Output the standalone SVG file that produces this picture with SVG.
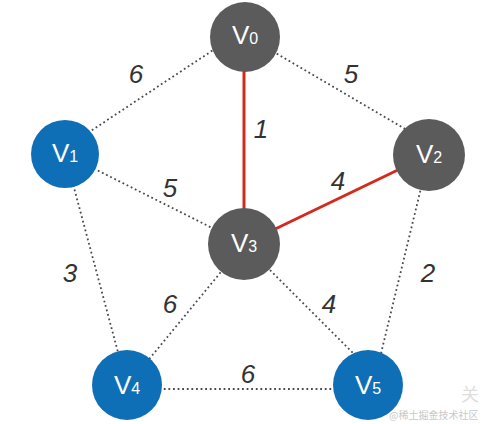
<svg xmlns="http://www.w3.org/2000/svg" width="481" height="424" viewBox="0 0 481 424">
<style>
.dot{stroke:#4a4a4a;stroke-width:1.8;stroke-dasharray:1.8 2.8;fill:none}
.red{stroke:#d42a1e;stroke-width:3;fill:none}
.gray{fill:#5b5b5c}
.blue{fill:#0f6fb6}
.nt{font-family:"Liberation Sans",Arial,sans-serif;fill:#fff;font-size:26px;text-anchor:middle}
.nt tspan.s{font-size:16px}
.lbl{font-family:"Liberation Sans",Arial,sans-serif;font-style:italic;font-size:26px;fill:#333;text-anchor:middle}
.wm{font-family:"Noto Sans CJK SC",sans-serif;fill:#c9c9c9}
</style>
<rect width="481" height="424" fill="#fff"/>
<g id="connectors">
<line class="dot" x1="65" y1="148" x2="245" y2="29"/>
<line class="dot" x1="245" y1="35" x2="429" y2="143"/>
<line class="dot" x1="65" y1="154" x2="244" y2="244"/>
<line class="dot" x1="65" y1="154" x2="127" y2="386"/>
<line class="dot" x1="429" y1="155" x2="377" y2="370"/>
<line class="dot" x1="244" y1="244" x2="127" y2="386"/>
<line class="dot" x1="244" y1="244" x2="362" y2="362"/>
<line class="dot" x1="127" y1="389" x2="368" y2="389"/>
<line class="red" x1="244" y1="37" x2="244" y2="244"/>
<line class="red" x1="429" y1="155" x2="244" y2="244"/>
<text class="lbl" x="136" y="83">6</text>
<text class="lbl" x="351" y="83">5</text>
<text class="lbl" x="261" y="138">1</text>
<text class="lbl" x="170" y="197">5</text>
<text class="lbl" x="338" y="190">4</text>
<text class="lbl" x="70" y="282">3</text>
<text class="lbl" x="170" y="313">6</text>
<text class="lbl" x="329" y="313">4</text>
<text class="lbl" x="428" y="282">2</text>
<text class="lbl" x="248" y="383">6</text>
</g>
<g id="V0"><circle class="gray" cx="245" cy="37" r="35"/><text class="nt" x="245" y="44">V<tspan class="s">0</tspan></text></g>
<g id="V1"><circle class="blue" cx="65" cy="154" r="34"/><text class="nt" x="65" y="162">V<tspan class="s">1</tspan></text></g>
<g id="V2"><circle class="gray" cx="429" cy="155" r="36"/><text class="nt" x="429" y="163">V<tspan class="s">2</tspan></text></g>
<g id="V3"><circle class="gray" cx="244" cy="244" r="36"/><text class="nt" x="244" y="252">V<tspan class="s">3</tspan></text></g>
<g id="V4"><circle class="blue" cx="127" cy="385" r="35"/><text class="nt" x="127" y="394">V<tspan class="s">4</tspan></text></g>
<g id="V5"><circle class="blue" cx="368" cy="385" r="35"/><text class="nt" x="368" y="394">V<tspan class="s">5</tspan></text></g>
<text class="wm" x="461" y="401" font-size="18" fill-opacity="0.6">关</text>
<text class="wm" x="389" y="419" font-size="10">@稀土掘金技术社区</text>
</svg>
